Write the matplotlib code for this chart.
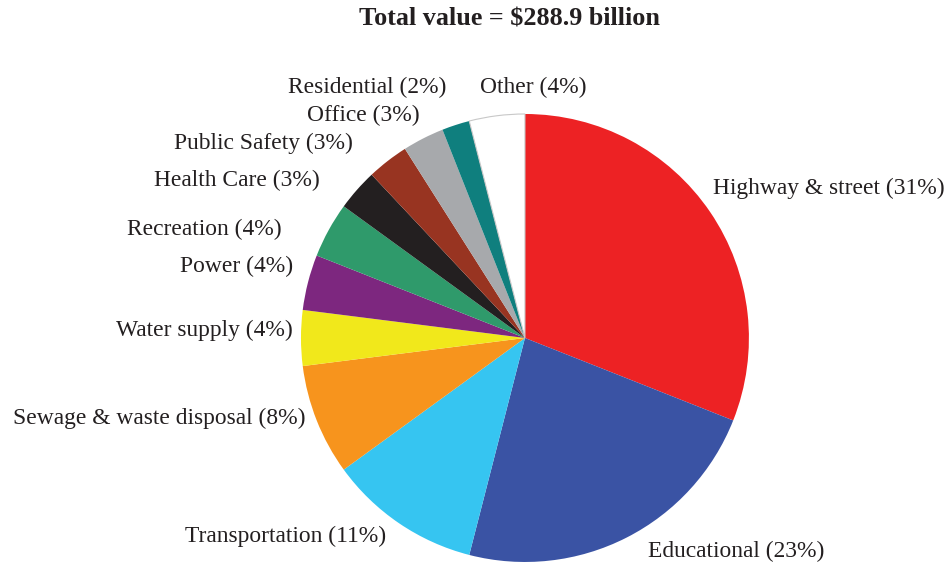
import matplotlib
matplotlib.use('Agg')
import matplotlib.pyplot as plt

# construction value share by category (percent), clockwise from 12 o'clock
categories = ['Highway & street', 'Educational', 'Transportation',
              'Sewage & waste disposal', 'Water supply', 'Power', 'Recreation',
              'Health Care', 'Public Safety', 'Office', 'Residential', 'Other']
shares = [31, 23, 11, 8, 4, 4, 4, 3, 3, 3, 2, 4]
colors = ['#ED2224', '#3A53A4', '#36C5F1', '#F7941D', '#F1E81B', '#7D277F',
          '#2F9A6B', '#231F20', '#983421', '#A7A9AC', '#0F7F7E', '#FFFFFF']
title = 'Total value = $288.9 billion'

# label placement (pie radius units) and alignment
label_pos = [(0.84, 0.67), (0.55, -0.955), (-0.62, -0.885), (-0.98, -0.36),
             (-1.035, 0.035), (-1.035, 0.32), (-1.085, 0.485), (-0.915, 0.705),
             (-0.77, 0.87), (-0.47, 0.995), (-0.35, 1.12), (-0.20, 1.12)]
label_ha = ['left', 'left', 'right', 'right', 'right', 'right', 'right',
            'right', 'right', 'right', 'right', 'left']

plt.rcParams['font.family'] = ['Liberation Serif', 'DejaVu Serif']
txt_color = '#231F20'

fig = plt.figure(figsize=(9.45, 5.66), dpi=100)
ax = fig.add_axes([0.3185, 0.0071, 0.474, 0.7915])

wedges, _ = ax.pie(shares, colors=colors, startangle=90, counterclock=False,
                   radius=1, wedgeprops=dict(linewidth=0))
wedges[-1].set_edgecolor('#C8C8C8')
wedges[-1].set_linewidth(0.8)

for name, pct, (x, y), ha in zip(categories, shares, label_pos, label_ha):
    ax.text(x, y, f'{name} ({pct}%)', ha=ha, va='center', fontsize=16.9,
            color=txt_color, clip_on=False)

ax.set_xlim(-1, 1)
ax.set_ylim(-1, 1)
ax.set_aspect('auto')
ax.axis('off')

fig.text(0.539, 0.966, title, ha='center', va='center', fontsize=18.8,
         fontweight='bold', color=txt_color)

fig.savefig('out.png', dpi=100)
